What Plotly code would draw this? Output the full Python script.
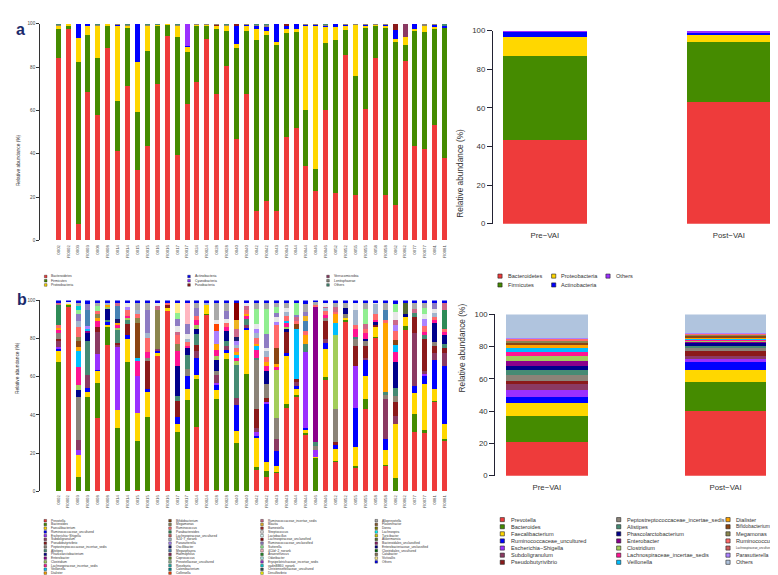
import plotly.graph_objects as go

W, H = 778, 575
FONT = "Liberation Sans, Arial, sans-serif"

# ---------------- data ----------------
samples = ["0002", "R0002", "0003", "R0003", "0008", "R0008", "0014", "R0014", "0015", "R0015",
           "0016", "R0016", "0017", "R0017", "0024", "R0024", "0028", "R0028", "0040", "R0040",
           "0042", "R0042", "0043", "R0043", "0044", "R0044", "0046", "R0046", "0052", "R0052",
           "0055", "R0055", "0058", "R0058", "0062", "R0062", "0077", "R0077", "0081", "R0081"]

groups = ["Pre\u2212VAI", "Post\u2212VAI"]

# panel a: phylum level (%), per sample
bacteroidetes = [84.1, 97.4, 7.7, 68.6, 57.7, 88.7, 41.4, 71.1, 32.3, 43.8, 72.4, 94.4, 39.3, 63.0, 73.1, 93.2,
                 67.5, 80.4, 46.7, 67.5, 13.4, 18.4, 13.4, 47.9, 52.1, 34.3, 23.0, 60.4, 21.9, 85.6, 21.0, 60.7,
                 84.1, 21.0, 16.2, 82.6, 43.7, 42.1, 53.2, 38.1]
firmicutes = [13.6, 1.5, 74.5, 26.4, 26.7, 10.2, 22.8, 27.4, 27.2, 43.7, 26.8, 5.4, 54.7, 23.9, 26.4, 6.3,
              29.9, 16.3, 42.0, 29.2, 79.0, 76.6, 76.8, 48.0, 44.6, 26.1, 9.8, 30.8, 70.5, 11.4, 54.8, 37.8,
              15.4, 77.5, 75.2, 7.6, 52.8, 54.1, 44.5, 60.4]
proteobacteria = [1.5, 1.1, 11.3, 3.9, 14.8, 1.1, 35.0, 0.7, 22.7, 11.7, 0.4, 0.2, 5.2, 2.5, 0.3, 0.3,
                  1.8, 2.5, 1.9, 2.5, 5.0, 1.5, 1.2, 1.8, 0.7, 38.8, 66.4, 7.3, 6.1, 2.2, 24.0, 0.7,
                  0.3, 0.7, 1.5, 3.8, 1.2, 3.0, 1.2, 0.0]
actinobacteria = [0, 0, 6.5, 1.1, 0.3, 0, 0.6, 0.3, 17.8, 0.3, 0, 0, 0.3, 0.4, 0, 0,
                  0, 0.3, 8.6, 0.5, 1.8, 2.0, 8.6, 1.5, 2.6, 0.5, 0.4, 1.0, 1.5, 0.6, 0, 0.5,
                  0, 0.5, 4.1, 0, 2.3, 0, 0.8, 0.7]
cyanobacteria = [0, 0, 0, 0, 0, 0, 0, 0, 0, 0, 0, 0, 0, 10.2, 0, 0,
                 0, 0, 0, 0, 0, 0, 0, 0, 0, 0, 0, 0, 0, 0, 0, 0,
                 0, 0, 0, 0, 0, 0, 0, 0]
fusobacteria = [0, 0, 0, 0, 0, 0, 0, 0, 0, 0, 0, 0, 0, 0, 0, 0,
                0.6, 0, 0.8, 0, 0, 0, 0, 0.8, 0, 0, 0, 0, 0, 0, 0, 0,
                0, 0, 3.0, 0, 0, 0, 0, 0]
verrucomicrobia = [0, 0, 0, 0, 0, 0, 0, 0, 0, 0, 0, 0, 0, 0, 0, 0,
                   0, 0, 0, 0, 0, 0, 0, 0, 0, 0, 0, 0, 0, 0, 0, 0,
                   0, 0, 0, 6.0, 0, 0, 0, 0]
lentisphaerae = [0.5, 0, 0, 0, 0.3, 0, 0.2, 0.3, 0, 0.3, 0.2, 0, 0.3, 0, 0.2, 0.2,
                 0.2, 0.3, 0, 0.3, 0.5, 1.2, 0, 0, 0, 0.3, 0.4, 0.3, 0, 0.2, 0.2, 0.3,
                 0.2, 0.3, 0, 0, 0, 0.8, 0.3, 0]
phylum_others = [0.3, 0, 0, 0, 0.2, 0, 0, 0.2, 0, 0.2, 0.2, 0, 0.2, 0, 0, 0,
                 0, 0.2, 0, 0, 0.3, 0.3, 0, 0, 0, 0, 0, 0.2, 0, 0, 0, 0,
                 0, 0, 0, 0, 0, 0, 0, 0.8]

phylum_names = ["Bacteroidetes", "Firmicutes", "Proteobacteria", "Actinobacteria", "Cyanobacteria",
                "Fusobacteria", "Verrucomicrobia", "Lentisphaerae", "Others"]
phylum_series = [bacteroidetes, firmicutes, proteobacteria, actinobacteria, cyanobacteria,
                 fusobacteria, verrucomicrobia, lentisphaerae, phylum_others]
phylum_colors = ["#EE3B3B", "#458B00", "#FFD700", "#0000FF", "#9B30FF",
                 "#8B1A1A", "#8B3A62", "#8B8378", "#458B74"]

# panel a right: group means
group_phyla = ["Bacteroidetes", "Firmicutes", "Proteobacteria", "Actinobacteria", "Others"]
group_phyla_values = [[43.3, 62.9], [43.6, 31.3], [9.7, 3.9], [3.0, 1.0], [0.4, 0.9]]
group_phyla_colors = ["#EE3B3B", "#458B00", "#FFD700", "#0000FF", "#9B30FF"]

# panel b: genus legend (code, name, colour), four columns
genus_columns = [
    [("P", "Prevotella", "#EE3B3B"), ("B", "Bacteroides", "#458B00"), ("F", "Faecalibacterium", "#FFD700"),
     ("RU", "Ruminococcaceae_uncultured", "#0000FF"), ("E", "Escherichia\u2212Shigella", "#9B30FF"),
     ("S", "Subdoligranulum", "#8B3A62"), ("PB", "Pseudobutyrivibrio", "#8B1A1A"),
     ("PE", "Peptostreptococcaceae_incertae_sedis", "#8B8378"), ("A", "Alistipes", "#458B74"),
     ("PH", "Phascolarctobacterium", "#00008B"), ("EN", "Enterobacter", "#8B008B"),
     ("C", "Clostridium", "#A2CD5A"), ("LI", "Lachnospiraceae_incertae_sedis", "#FF1493"),
     ("V", "Veillonella", "#00BFFF"), ("D", "Dialister", "#FFA500")],
    [("BI", "Bifidobacterium", "#8B4513"), ("M", "Megamonas", "#8B864E"), ("R", "Ruminococcus", "#FF6A6A"),
     ("PA", "Parabacteroides", "#2E8B57"), ("LU", "Lachnospiraceae_uncultured", "#CD5C5C"),
     ("S24", "S24\u22127_norank", "#A2B5CD"), ("PS", "Parasutterella", "#AB82FF"),
     ("OS", "Oscillibacter", "#191970"), ("MS", "Megasphaera", "#4682B4"), ("HA", "Haemophilus", "#8B2252"),
     ("CC", "Coprococcus", "#6B8E23"), ("PU", "Prevotellaceae_uncultured", "#8FBC8F"),
     ("RO", "Roseburia", "#20B2AA"), ("CT", "Catenibacterium", "#008B8B"), ("CO", "Collinsella", "#FF4500")],
    [("RI", "Ruminococcaceae_incertae_sedis", "#CD6889"), ("BL", "Blautia", "#EEB422"),
     ("BA", "Barnesiella", "#A52A2A"), ("ST", "Streptococcus", "#E8E8E8"), ("LB", "Lactobacillus", "#E0FFFF"),
     ("LC", "Lachnospiraceae_unclassified", "#8B0000"), ("RN", "Ruminococcaceae_unclassified", "#8E7CC3"),
     ("SU", "Sutterella", "#90EE90"), ("CY", "4C0d\u22122_norank", "#FFB6C1"), ("AN", "Anaerotruncus", "#228B22"),
     ("OD", "Odoribacter", "#AFEEEE"), ("ER", "Erysipelotrichaceae_incertae_sedis", "#9932CC"),
     ("VB", "vadinBB60_norank", "#00CED1"), ("CH", "Christensenellaceae_uncultured", "#2F4F4F"),
     ("DE", "Desulfovibrio", "#FFFF00")],
    [("AL", "Alloprevotella", "#A9A9A9"), ("FL", "Flavonifractor", "#8B5A2B"), ("DO", "Dorea", "#808000"),
     ("LA", "Lachnospira", "#00FFFF"), ("TU", "Turicibacter", "#CDCD00"), ("AK", "Akkermansia", "#556B2F"),
     ("BU", "Bacteroidales_unclassified", "#8B1C62"), ("EU", "Enterobacteriaceae_unclassified", "#000080"),
     ("CU", "Clostridiales_uncultured", "#006400"), ("CA", "Catabacter", "#8B7355"),
     ("VI", "Victivallis", "#FFEC8B"), ("O", "Others", "#0000EE")],
]

# panel b left: genus composition (%) per sample, same order as `samples`
genus_samples = [
    {"B": 68, "F": 5.5, "RU": 1, "E": 1, "S": 3, "PB": 1.5, "PE": 3, "LI": 1.5, "D": 1, "R": 1.5, "PA": 10.5,
     "RI": 1, "O": 1.5},
    {"P": 96.5, "B": 1, "F": 0.5, "ST": 1, "O": 1},
    {"B": 7.4, "F": 11.9, "E": 2.5, "S": 5, "PE": 22.6, "PH": 3.8, "C": 2.6, "LI": 9.5, "V": 8.3, "D": 2,
     "BI": 3, "M": 2.4, "R": 5, "S24": 3, "RN": 4, "SU": 2, "VB": 2, "AL": 1.5, "O": 1.5},
    {"B": 49.5, "F": 2.5, "RU": 2, "S": 7, "A": 17.5, "PH": 4.2, "EN": 1.3, "V": 1, "PS": 1.5, "MS": 8.5, "RN": 3, "O": 2},
    {"P": 38.6, "B": 18.1, "F": 6.2, "RU": 0.9, "E": 8, "S": 11.8, "PB": 2.4, "LI": 3, "D": 2, "M": 2, "R": 1.5,
     "SU": 2.5, "AL": 1.5, "O": 1.5},
    {"P": 76.7, "B": 9.5, "F": 0.8, "RU": 1.5, "A": 1.5, "PH": 5.5, "C": 1, "D": 1, "S24": 1, "O": 1.5},
    {"B": 33.4, "F": 9, "E": 33.5, "S": 1, "PB": 1, "A": 6.9, "C": 1, "LI": 1.2, "D": 1, "OS": 2.5, "MS": 6.8,
     "RI": 1.2, "O": 1.5},
    {"B": 67.9, "F": 12.1, "RU": 1.7, "PB": 5.7, "A": 2.6, "C": 1, "LI": 1, "R": 3, "PS": 1.5, "ST": 2, "O": 1.5},
    {"P": 0.5, "B": 26.1, "F": 14.3, "E": 19.5, "LI": 7.8, "V": 1.8, "BI": 18, "M": 3, "R": 2, "S24": 2,
     "AL": 3.5, "O": 1.5},
    {"B": 39.1, "F": 13.1, "RU": 1.2, "PB": 14.7, "PE": 2, "LI": 3, "R": 7, "S24": 3, "RN": 12, "AL": 3.4, "O": 1.5},
    {"P": 71, "F": 1.5, "RU": 1, "S": 1, "M": 20.5, "RI": 2, "ST": 1.5, "O": 1.5},
    {"P": 94.5, "F": 1.5, "PB": 1.5, "R": 1, "O": 1.5},
    {"B": 31, "F": 4.5, "RU": 3.3, "PB": 8.6, "A": 2.6, "PH": 15.5, "LI": 7.8, "M": 4, "R": 4.7, "RI": 1.5,
     "ST": 3, "RN": 4, "SU": 3, "VI": 5, "O": 1.5},
    {"B": 47.9, "F": 5.9, "RU": 6.5, "PE": 4, "A": 7.2, "PH": 3.5, "LI": 1, "R": 2, "S24": 2, "ST": 2.5, "RN": 5,
     "CY": 11, "O": 1.5},
    {"P": 33.6, "B": 25, "F": 2.6, "RU": 8.6, "S": 3.6, "PB": 3, "A": 6, "PH": 2.6, "C": 2, "LI": 3, "R": 2,
     "RN": 4, "AL": 2.5, "O": 1.5},
    {"P": 92.2, "B": 0.8, "F": 4.6, "S24": 1.2, "O": 1.2},
    {"P": 0.8, "B": 47.5, "F": 5, "RU": 2.4, "E": 1.3, "S": 4, "PE": 2, "PH": 6, "C": 2, "LI": 3, "D": 3,
     "PS": 7, "CO": 3.5, "ST": 2, "AL": 9, "O": 1.5},
    {"B": 69.3, "F": 3.1, "RU": 1.7, "S": 1.9, "A": 3, "PH": 5, "LI": 2, "R": 2, "ST": 2.5, "RN": 4, "AL": 4, "O": 1.5},
    {"B": 25.2, "F": 6.3, "RU": 13.9, "S": 3.6, "A": 17.4, "C": 2, "LI": 1.5, "V": 1.6, "D": 1.5, "R": 2,
     "S24": 1.5, "PS": 2, "OS": 2.5, "RI": 4, "BL": 5, "LC": 8.5, "O": 1.5},
    {"B": 61.7, "F": 22.8, "RU": 1, "S": 1.5, "A": 3.5, "LI": 1.5, "D": 1, "R": 2, "RI": 2, "ST": 1.5, "O": 1.5},
    {"P": 11.4, "B": 1.4, "F": 15.1, "RU": 0.9, "E": 2.2, "S": 2, "PB": 10, "PE": 25.6, "A": 1.5, "LI": 4,
     "V": 2, "D": 1, "R": 3, "S24": 3, "PS": 2, "ST": 2.4, "SU": 8, "AL": 3, "O": 1.5},
    {"P": 7.6, "B": 3.3, "F": 4.3, "RU": 30.8, "E": 1, "PB": 2, "PE": 7, "PH": 7, "LI": 2.5, "D": 2, "R": 3,
     "S24": 3, "ST": 1.5, "RN": 7.5, "SU": 13, "AL": 3, "O": 1.5},
    {"P": 9.5, "B": 0.5, "F": 3.4, "RU": 8, "S": 6, "PE": 11, "C": 25, "LI": 1.5, "D": 2, "BI": 8, "R": 12,
     "PS": 2, "ST": 2.5, "RN": 2, "SU": 3, "AL": 2.1, "O": 1.5},
    {"P": 43.8, "B": 1.9, "F": 25, "RU": 1.7, "PB": 11, "PH": 1.6, "C": 1, "LI": 2, "V": 1, "R": 3, "S24": 2,
     "ST": 2, "AL": 2.5, "O": 1.5},
    {"P": 49.5, "B": 1, "F": 2.9, "RU": 1.8, "S": 2.2, "PB": 1.4, "V": 26.2, "BI": 2.5, "R": 1.5, "RI": 2.1,
     "RN": 1.4, "SU": 6, "O": 1.5},
    {"P": 29.8, "B": 0.7, "F": 1.6, "RU": 0.9, "E": 40, "A": 4, "D": 5, "R": 2, "MS": 5, "BL": 3, "RN": 2,
     "AL": 4, "O": 2},
    {"B": 17.6, "F": 0.5, "E": 3.5, "PE": 2, "A": 2, "EN": 71, "R": 1, "AL": 1.4, "O": 1},
    {"P": 58.2, "B": 1.6, "F": 14.7, "RU": 3.1, "S": 2.4, "PB": 9, "PE": 2, "LI": 1.5, "R": 2, "S24": 1.5,
     "RI": 0.8, "ST": 2, "O": 1.2},
    {"P": 15.5, "B": 0.5, "F": 6, "RU": 2.5, "PB": 1.5, "PE": 17.3, "C": 38.7, "V": 6, "D": 5, "R": 1, "RI": 2.5,
     "AL": 2, "O": 1.5},
    {"P": 89, "B": 1, "F": 1, "PE": 2, "PH": 3, "AL": 2.5, "O": 1.5},
    {"P": 12.1, "B": 1.4, "F": 9.8, "RU": 20.2, "E": 22, "PB": 10.5, "PE": 4, "A": 1, "LI": 4, "R": 2, "S24": 8,
     "ST": 3.5, "O": 1.5},
    {"P": 43.1, "B": 5.2, "F": 12, "RU": 8.7, "S": 1, "PB": 6, "PE": 3, "PH": 1, "LI": 3, "R": 2, "RI": 2.5,
     "SU": 8, "AL": 3, "O": 1.5},
    {"P": 80.2, "B": 0.8, "F": 5.2, "PB": 1, "PH": 1.8, "LI": 1, "R": 3, "S24": 5, "ST": 0.8, "O": 1.2},
    {"P": 13.1, "B": 0.5, "F": 7.9, "RU": 6.1, "S": 20.7, "PE": 2.2, "A": 1.5, "D": 36, "R": 2, "MS": 5,
     "AL": 3.5, "O": 1.5},
    {"B": 7, "F": 28.4, "S": 4.3, "PB": 6.9, "PE": 3.4, "A": 4, "PH": 13.8, "LI": 5.2, "V": 3.4, "BI": 3,
     "R": 4.6, "PS": 3, "RI": 3, "ST": 4, "SU": 4, "O": 2},
    {"P": 84.5, "B": 2.2, "F": 4.7, "PH": 1.6, "AK": 5.5, "O": 1.5},
    {"P": 31.2, "B": 9.1, "F": 11.4, "RU": 3.5, "S": 27.8, "PB": 8.4, "A": 2, "RI": 2.1, "AL": 3, "O": 1.5},
    {"P": 30.5, "B": 1.4, "F": 24.1, "RU": 4.3, "E": 1.1, "S": 1.6, "PB": 17, "A": 2, "LI": 1.5, "R": 3,
     "PS": 4, "ST": 2.5, "SU": 3, "AL": 2.5, "O": 1.5},
    {"P": 46.6, "B": 0.8, "F": 6, "RU": 15.6, "S": 3.4, "PB": 3.6, "PE": 2, "PH": 10, "LI": 2, "R": 1.5,
     "S24": 2, "ST": 2, "RN": 3, "O": 1.5},
    {"P": 26.6, "B": 1, "F": 7.7, "RU": 30.2, "S": 6.9, "PB": 2.6, "A": 2, "PH": 5, "LI": 1.5, "R": 1.5,
     "PA": 10, "RI": 3.5, "O": 1.5},
]

# panel b right: top genera, group means
group_genera = ["Prevotella", "Bacteroides", "Faecalibacterium", "Ruminococcaceae_uncultured",
                "Escherichia\u2212Shigella", "Subdoligranulum", "Pseudobutyrivibrio",
                "Peptostreptococcaceae_incertae_sedis", "Alistipes", "Phascolarctobacterium", "Enterobacter",
                "Clostridium", "Lachnospiraceae_incertae_sedis", "Veillonella", "Dialister", "Bifidobacterium",
                "Megamonas", "Ruminococcus", "Lachnospiraceae_uncultured", "Parasutterella", "Others"]
group_genera_pre = [20.8, 16.5, 7.5, 4.1, 4.3, 3.4, 2.1, 4.0, 2.7, 2.8, 3.1, 3.0, 2.3, 2.8, 1.7, 1.4, 1.0, 1.0, 0.6, 0.6, 14.3]
group_genera_post = [39.9, 18.1, 7.4, 5.1, 2.0, 1.8, 3.1, 1.6, 1.4, 1.7, 1.0, 0.6, 0.4, 0.6, 0.8, 1.1, 0.6, 0.6, 0.4, 0.6, 11.2]
group_genera_colors = ["#EE3B3B", "#458B00", "#FFD700", "#0000FF", "#9B30FF", "#8B3A62", "#8B1A1A", "#8B8378",
                       "#458B74", "#00008B", "#8B008B", "#A2CD5A", "#FF1493", "#00BFFF", "#FFA500", "#8B4513",
                       "#8B864E", "#FF6A6A", "#CD5C5C", "#AB82FF", "#B0C4DE"]

# ---------------- helpers ----------------
def fx(px):
    return px / W


def fy(py):
    return 1 - py / H


fig = go.Figure()

# panel a left
for name, vals, col in zip(phylum_names, phylum_series, phylum_colors):
    fig.add_trace(go.Bar(x=list(range(len(samples))), y=vals, name=name, marker=dict(color=col, line=dict(width=0)),
                         width=0.5, xaxis="x", yaxis="y", showlegend=False))
# panel a right
for name, vals, col in zip(group_phyla, group_phyla_values, group_phyla_colors):
    fig.add_trace(go.Bar(x=[0, 1], y=vals, name=name, marker=dict(color=col, line=dict(width=0)),
                         width=0.4545, xaxis="x2", yaxis="y2", showlegend=False))
# panel b left
for column in genus_columns:
    for code, name, col in column:
        vals = [d.get(code, 0) for d in genus_samples]
        if sum(vals) == 0:
            continue
        fig.add_trace(go.Bar(x=list(range(len(samples))), y=vals, name=name,
                             marker=dict(color=col, line=dict(width=0)),
                             width=0.5, xaxis="x3", yaxis="y3", showlegend=False))
# panel b right
for name, pre, post, col in zip(group_genera, group_genera_pre, group_genera_post, group_genera_colors):
    fig.add_trace(go.Bar(x=[0, 1], y=[pre, post], name=name, marker=dict(color=col, line=dict(width=0)),
                         width=0.456, xaxis="x4", yaxis="y4", showlegend=False))

AX = "#333333"
small_y = dict(range=[0, 100], tickvals=[0, 20, 40, 60, 80, 100], showline=True, linecolor=AX, linewidth=0.7,
               ticks="outside", ticklen=3, tickwidth=0.7, tickcolor=AX, showgrid=False, zeroline=False,
               tickfont=dict(size=4.6, color="#444", family=FONT))
big_y = dict(range=[0, 100], tickvals=[0, 20, 40, 60, 80, 100], showline=True, linecolor="#222233", linewidth=1.3,
             ticks="outside", ticklen=5, tickwidth=1.3, tickcolor="#222233", showgrid=False, zeroline=False,
             tickfont=dict(size=7.8, color="#333", family=FONT))


def small_x(ticklen):
    return dict(range=[-1.837, 39.5], tickvals=list(range(len(samples))), ticktext=samples, tickangle=-90,
                showline=False, showgrid=False, zeroline=False, ticks="outside", ticklen=ticklen,
                tickcolor="rgba(0,0,0,0)", tickfont=dict(size=4.3, color="#444", family=FONT))


def big_x(rng, ticklen):
    return dict(range=rng, tickvals=[0, 1], ticktext=groups, showline=False, showgrid=False, zeroline=False,
                ticks="outside", ticklen=ticklen, tickcolor="rgba(0,0,0,0)",
                tickfont=dict(size=7.8, color="#333", family=FONT))


fig.update_layout(
    width=W, height=H, margin=dict(l=0, r=0, t=0, b=0), barmode="stack",
    paper_bgcolor="white", plot_bgcolor="white", font=dict(family=FONT),
    xaxis=dict(domain=[fx(32), fx(441.65)], anchor="y", **small_x(2)),
    yaxis=dict(domain=[fy(232), fy(12)], anchor="x", **small_y),
    xaxis2=dict(domain=[fx(485), fx(775)], anchor="y2", **big_x([-0.282, 1.2946], 4)),
    yaxis2=dict(domain=[fy(215), fy(19)], anchor="x2", **big_y),
    xaxis3=dict(domain=[fx(32), fx(441.65)], anchor="y3", **small_x(1)),
    yaxis3=dict(domain=[fy(487), fy(293)], anchor="x3", **small_y),
    xaxis4=dict(domain=[fx(487.3), fx(775)], anchor="y4", **big_x([-0.2888, 1.3212], 4)),
    yaxis4=dict(domain=[fy(471), fy(307.3)], anchor="x4", **big_y),
)

annotations = []
shapes = []

# panel letters
annotations.append(dict(x=fx(6), y=fy(7), xref="paper", yref="paper", text="<b>a</b>", showarrow=False,
                        font=dict(size=16, color="#1b2a6b", family=FONT)))
annotations.append(dict(x=fx(7), y=fy(292), xref="paper", yref="paper", text="<b>b</b>", showarrow=False,
                        font=dict(size=16, color="#1b2a6b", family=FONT)))

# y axis titles
for cx, cy, fs in [(5.5, 122, 4.8), (452, 117, 8.3), (5.5, 390, 4.8), (454, 389, 8.3)]:
    annotations.append(dict(x=fx(cx), y=fy(cy), xref="paper", yref="paper", text="Relative abundance (%)",
                            textangle=-90, showarrow=False, font=dict(size=fs, color="#333", family=FONT)))


def legend_block(columns, col_sq_x, row_y0, row_dy, sq, fs, dx, bw, right_edge=W - 5):
    for cols, sx in zip(columns, col_sq_x):
        for k, (name, col) in enumerate(cols):
            cy = row_y0 + k * row_dy
            shapes.append(dict(type="rect", xref="paper", yref="paper",
                               x0=fx(sx - sq / 2), x1=fx(sx + sq / 2), y0=fy(cy + sq / 2), y1=fy(cy - sq / 2),
                               fillcolor=col, line=dict(color="#222", width=bw)))
            # shrink a label only if it would run past the figure edge
            est_w = len(name) * fs * 0.62
            room = right_edge - (sx + dx)
            size = fs if est_w <= room else fs * room / est_w
            annotations.append(dict(x=fx(sx + dx), y=fy(cy), xref="paper", yref="paper", text=name,
                                    xanchor="left", yanchor="middle", showarrow=False, borderpad=0,
                                    font=dict(size=size, color="#333", family=FONT)))


# legend panel a left (3 columns x 3 rows)
pa = list(zip(phylum_names, phylum_colors))
legend_block([pa[0:3], pa[3:6], pa[6:9]], [37.7, 181, 320], 268.7, 4.3, 2.6, 3.4, 4.5, 0.4)
# legend panel a right
ga = list(zip(group_phyla, group_phyla_colors))
legend_block([ga[0:2], ga[2:4], ga[4:5]], [492, 545.7, 600], 268.3, 9.0, 4.2, 5.6, 6.5, 0.6)
# legend panel b left (4 columns)
gb = [[(n, c) for _, n, c in column] for column in genus_columns]
legend_block(gb, [37.3, 162, 254, 368.3], 516.8, 3.8, 2.6, 3.2, 4.5, 0.4)
# legend panel b right (3 columns x 7 rows)
gg = list(zip(group_genera, group_genera_colors))
legend_block([gg[0:7], gg[7:14], gg[14:21]], [494.3, 610.7, 720], 515.7, 7.22, 4.2, 5.6, 7.2, 0.6)

fig.update_layout(annotations=annotations, shapes=shapes)
fig.write_html("out.html")
